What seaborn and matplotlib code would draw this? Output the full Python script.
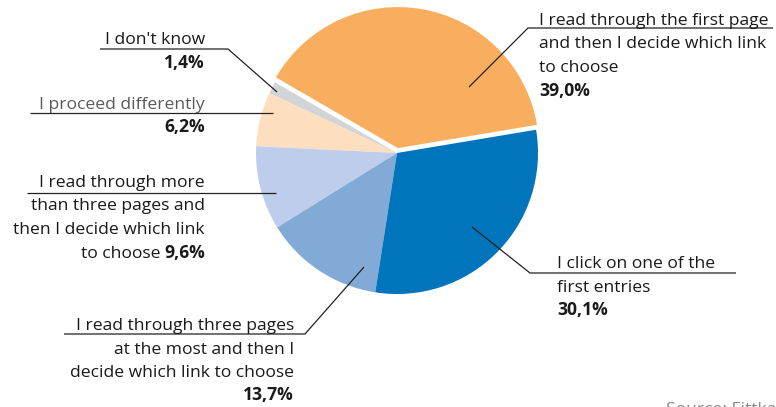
import matplotlib
matplotlib.use("Agg")
import matplotlib.pyplot as plt
import seaborn as sns

# Survey answers, in drawing order (counter-clockwise from the right)
categories = [
    "I read through the first page and then I decide which link to choose",
    "I don't know",
    "I proceed differently",
    "I read through more than three pages and then I decide which link to choose",
    "I read through three pages at the most and then I decide which link to choose",
    "I click on one of the first entries",
]
shares = [39.0, 1.4, 6.2, 9.6, 13.7, 30.1]
value_labels = ["39,0%", "1,4%", "6,2%", "9,6%", "13,7%", "30,1%"]
colors = ["#F9AE5F", "#D3D4D6", "#FDDFBF", "#BDCDEB", "#82AAD7", "#0075BC"]

sns.set_theme(style="white")
plt.rcParams["font.family"] = ["Open Sans", "DejaVu Sans"]

W, H = 776, 407
fig = plt.figure(figsize=(W / 100, H / 100), dpi=100)
ax = fig.add_axes([0, 0, 1, 1])

def py(y):
    # pixel row (from top) -> data y
    return H - y

cx, cy, R = 397, py(153), 141
explode = [5, 0, 0, 0, 0, 0]
ax.pie(shares, colors=colors, startangle=9.5, counterclock=True,
       center=(cx, cy), radius=R, explode=explode,
       wedgeprops=dict(linewidth=0), frame=True)
ax.set_xlim(0, W)
ax.set_ylim(0, H)
ax.set_aspect("equal")
ax.axis("off")

FS = 12.6
INK = "#1a1a1a"
line_kw = dict(color="#222222", lw=0.9, solid_capstyle="butt")

def poly(pts):
    xs = [p[0] for p in pts]
    ys = [py(p[1]) for p in pts]
    ax.plot(xs, ys, **line_kw)

def lines_text(x, baselines, rows, ha):
    for yb, row in zip(baselines, rows):
        txt, bold, color = row
        ax.text(x, py(yb), txt, ha=ha, va="baseline", fontsize=FS,
                fontweight="bold" if bold else "normal", color=color)

# I read through the first page ...
lines_text(539, [25, 48.5, 72, 95.5],
           [("I read through the first page", False, INK),
            ("and then I decide which link", False, INK),
            ("to choose", False, INK),
            (value_labels[0], True, INK)], "left")
poly([(469, 87), (528, 28), (773, 28)])

# I don't know
lines_text(205, [44, 67.5],
           [(categories[1], False, INK), (value_labels[1], True, INK)], "right")
poly([(277, 92), (228, 49), (100, 49)])

# I proceed differently
lines_text(205, [109, 132.5],
           [(categories[2], False, "#5a5a5a"), (value_labels[2], True, INK)],
           "right")
poly([(273, 113), (30, 113)])

# I read through more than three pages ...
lines_text(205, [187, 210.5, 234],
           [("I read through more", False, INK),
            ("than three pages and", False, INK),
            ("then I decide which link", False, INK)], "right")
fig.canvas.draw()
renderer = fig.canvas.get_renderer()
t_val = ax.text(205, py(257.5), value_labels[3], ha="right", va="baseline",
                fontsize=FS, fontweight="bold", color=INK)
wpx = t_val.get_window_extent(renderer).width
ax.text(205 - wpx - 4, py(257.5), "to choose", ha="right", va="baseline",
        fontsize=FS, color=INK)
poly([(276, 193), (27, 193)])

# I read through three pages at the most ...
lines_text(294, [330, 353.5, 377, 400.5],
           [("I read through three pages", False, INK),
            ("at the most and then I", False, INK),
            ("decide which link to choose", False, INK),
            (value_labels[4], True, INK)], "right")
poly([(364, 267), (305, 334), (64, 334)])

# I click on one of the first entries
lines_text(557, [268, 291.5, 315],
           [("I click on one of the", False, INK),
            ("first entries", False, INK),
            (value_labels[5], True, INK)], "left")
poly([(472, 227), (530, 273), (736, 273)])

# Source note (runs off the lower edge)
ax.text(666, py(414), "Source: Fittkau & Maaß Consulting", ha="left",
        va="baseline", fontsize=FS, color="#8a8a8a", clip_on=False)

fig.savefig("out.png", dpi=100)
